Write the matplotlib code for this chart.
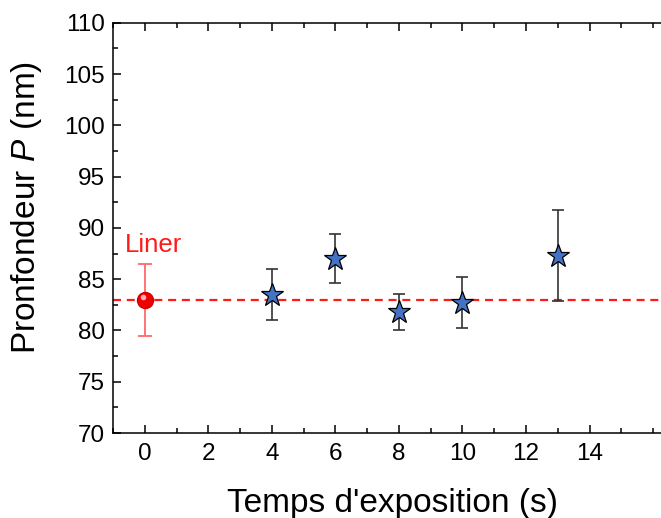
import matplotlib
matplotlib.use('Agg')
from matplotlib import pyplot as plt
from matplotlib import transforms
from matplotlib.ticker import MultipleLocator, FixedLocator

plt.rcParams['font.family'] = ['Liberation Sans', 'DejaVu Sans']
plt.rcParams['mathtext.fontset'] = 'custom'
plt.rcParams['mathtext.it'] = 'Liberation Sans:italic'
plt.rcParams['mathtext.rm'] = 'Liberation Sans'

# data
liner_x = [0]
liner_y = [83.0]
liner_err = [3.5]

temps = [4, 6, 8, 10, 13]
profondeur = [83.5, 87.0, 81.8, 82.7, 87.3]
profondeur_err = [2.5, 2.4, 1.8, 2.5, 4.4]

xticks = [0, 2, 4, 6, 8, 10, 12, 14]

fig = plt.figure(figsize=(6.61, 5.18), dpi=100)
ax = fig.add_axes([0.171, 0.164, 0.865, 0.792])

# reference line of the liner
ax.axhline(liner_y[0], color='#ff1a1a', lw=1.6, dashes=(3.6, 2.6), zorder=1)

# liner point
ax.errorbar(liner_x, liner_y, yerr=liner_err, fmt='none', ecolor='#ff6a6a',
            elinewidth=1.3, capsize=5, capthick=1.3, zorder=2)
ax.plot(liner_x, liner_y, 'o', ms=11.5, color='#f00000', mec='#d00000', zorder=3)
hl = ax.transData + transforms.ScaledTranslation(-1.6 / 72, 1.8 / 72, fig.dpi_scale_trans)
ax.plot(liner_x, liner_y, 'o', ms=4, color='#ffb0b0', mec='none', transform=hl, zorder=4)
ax.text(-0.62, 88.3, 'Liner', color='#ff1a1a', fontsize=18.5, va='center', ha='left')

# exposure points
ax.errorbar(temps, profondeur, yerr=profondeur_err, fmt='none', ecolor='#333333',
            elinewidth=1.2, capsize=4.5, capthick=1.2, zorder=2)
ax.plot(temps, profondeur, '*', ms=17, color='#4472c4', mec='black', mew=0.9, zorder=3)

ax.set_xlim(-1, 17)
ax.set_ylim(70, 110)
ax.xaxis.set_major_locator(FixedLocator(xticks))
ax.xaxis.set_minor_locator(MultipleLocator(1))
ax.yaxis.set_major_locator(MultipleLocator(5))
ax.yaxis.set_minor_locator(MultipleLocator(2.5))
ax.tick_params(which='both', direction='in', top=True, right=True, labelsize=17.5, width=1.1)
ax.tick_params(which='major', length=6)
ax.tick_params(which='minor', length=3.5)
ax.tick_params(axis='x', pad=7)
ax.tick_params(axis='y', pad=6)
for s in ax.spines.values():
    s.set_linewidth(1.1)

ax.set_xlabel("Temps d'exposition (s)", fontsize=24)
ax.set_ylabel(r"Pronfondeur $P$ (nm)", fontsize=24)
ax.xaxis.set_label_coords(0.489, -0.135)
ax.yaxis.set_label_coords(-0.121, 0.55)

fig.savefig('out.png', dpi=100)
